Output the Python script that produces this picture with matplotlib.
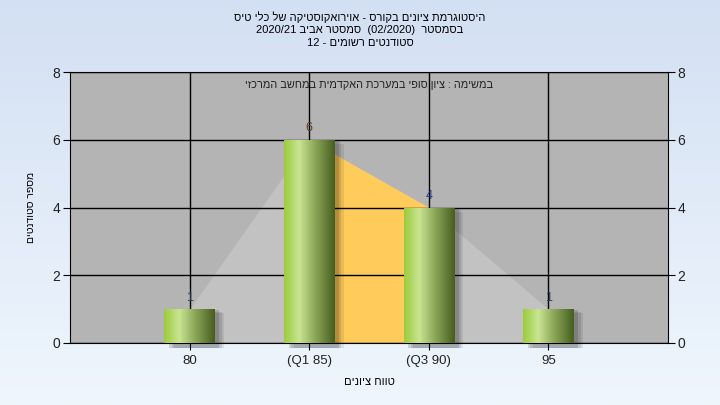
import re
import matplotlib
matplotlib.use("Agg")
import matplotlib.pyplot as plt
import numpy as np
from matplotlib.patches import Rectangle
from matplotlib.colors import LinearSegmentedColormap

# data
categories = ["80", "(Q1 85)", "(Q3 90)", "95"]
counts = [1, 6, 4, 1]
label_colors = ["#2a3a5a", "#5a4020", "#1c3c80", "#2a3a5a"]
title_lines = ["היסטוגרמת ציונים בקורס - אוירואקוסטיקה של כלי טיס",
               "בסמסטר  (02/2020)  סמסטר אביב 2020/21",
               "סטודנטים רשומים - 12"]
subtitle = "במשימה : ציון סופי במערכת האקדמית במחשב המרכזי"
x_label = "טווח ציונים"
y_label = "מספר סטודנטים"


def vis(s):
    # simple bidi: reverse hebrew, keep number runs left-to-right
    r = s[::-1]
    r = re.sub(r'[0-9A-Za-z/.]+', lambda m: m.group(0)[::-1], r)
    return r.translate(str.maketrans('()', ')('))


plt.rcParams['font.family'] = ['Liberation Sans', 'DejaVu Sans']
fig = plt.figure(figsize=(7.2, 4.05), dpi=100)

# background gradient
bg = fig.add_axes([0, 0, 1, 1], zorder=-10)
grad = np.linspace(0, 1, 256).reshape(-1, 1)
bg_cmap = LinearSegmentedColormap.from_list("bg", ["#d3e0f3", "#eff6fd"])
bg.imshow(grad, aspect='auto', cmap=bg_cmap, extent=[0, 1, 0, 1])
bg.axis('off')

ax = fig.add_axes([0.0972, 0.1531, 0.8306, 0.6691])
ax.set_facecolor("#b4b4b4")
x = np.arange(len(categories))

# area behind the bars, interquartile part in orange
ax.fill_between(x, counts, color="#c2c2c2", zorder=1, linewidth=0)
ax.fill_between(x[1:3], counts[1:3], color="#ffcb5a", zorder=1.5, linewidth=0)

# grid
ax.set_yticks([0, 2, 4, 6, 8])
ax.set_xticks(x, categories)
ax.grid(True, color="black", linewidth=1)
ax.set_axisbelow(False)
for gl in ax.get_xgridlines() + ax.get_ygridlines():
    gl.set_zorder(2)

# bars with gradient and shadow
bar_cmap = LinearSegmentedColormap.from_list(
    "bar", [(0, "#9ccb3c"), (0.3, "#c9e592"), (0.6, "#8ea85a"), (1, "#465e1e")])
w = 0.42
grad_h = np.linspace(0, 1, 256).reshape(1, -1)
for xi, c in zip(x, counts):
    for k, a in enumerate([0.14, 0.11, 0.08]):
        d = 0.02 * (k + 1)
        ax.add_patch(Rectangle((xi - w / 2 + d + 0.02, -0.15), w, c + 0.15 - d * 2,
                               color="black", alpha=a, zorder=3, linewidth=0, clip_on=False))
    rect = Rectangle((xi - w / 2, 0), w, c, facecolor="none", edgecolor="none", zorder=4)
    ax.add_patch(rect)
    im = ax.imshow(grad_h, aspect='auto', cmap=bar_cmap,
                   extent=[xi - w / 2, xi + w / 2, 0, c], zorder=4)
    im.set_clip_path(rect)

for xi, c, col in zip(x, counts, label_colors):
    ax.annotate(str(c), (xi, c), xytext=(0, 4), textcoords="offset points",
                ha="center", va="bottom", fontsize=9, color=col, zorder=5)

ax.set_xlim(-1, len(categories))
ax.set_ylim(0, 8)

for s in ax.spines.values():
    s.set_color("black")
ax.tick_params(axis='y', right=True, labelright=True, direction='out',
               length=5, labelsize=10, pad=2)
ax.tick_params(axis='x', direction='out', length=5, labelsize=9.5)
ax.tick_params(colors="black", which='both', labelcolor="#222222")

ax.set_xlabel(vis(x_label), fontsize=8, labelpad=7)
ax.set_ylabel(vis(y_label), fontsize=7.5, labelpad=12)

ax.text(0.5, 0.952, vis(subtitle), transform=ax.transAxes, ha='center', va='center',
        fontsize=7.8, color="#222222", zorder=6)

fig.text(0.5, 0.958, vis(title_lines[0]), ha='center', va='center', fontsize=8)
fig.text(0.5, 0.926, vis(title_lines[1]), ha='center', va='center', fontsize=8)
fig.text(0.5, 0.894, vis(title_lines[2]), ha='center', va='center', fontsize=8)

fig.savefig("out.png", dpi=100)
